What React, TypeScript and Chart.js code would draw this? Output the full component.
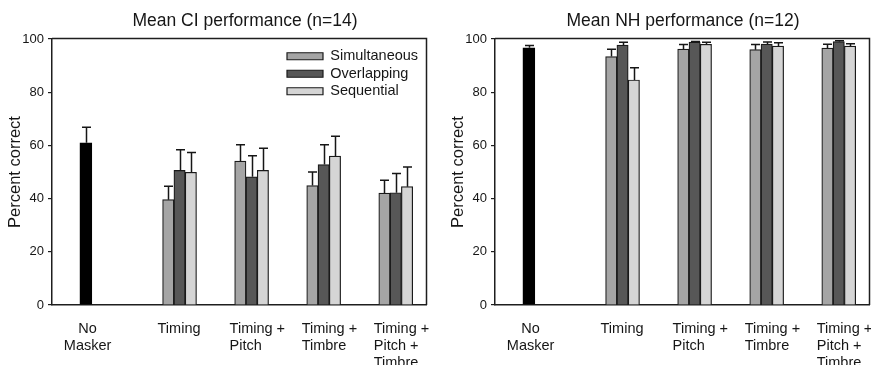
import React, { useEffect, useRef } from 'react';
import { Chart, registerables } from 'chart.js';

Chart.register(...registerables);

const FONT = "'Liberation Sans', Arial, Helvetica, sans-serif";
const INK = '#161616';
const LINE = '#1e1e1e';

// ---- data ----
const categoryLabels: string[][] = [
  ['No', 'Masker'],
  ['Timing'],
  ['Timing +', 'Pitch'],
  ['Timing +', 'Timbre'],
  ['Timing +', 'Pitch +', 'Timbre'],
];
const categoryLineAlign = ['center', 'left', 'left', 'left', 'left'];
const categoryPositions = [1, 2.3, 3.3, 4.3, 5.3];
const seriesNames = ['Simultaneous', 'Overlapping', 'Sequential'];
const seriesColors = ['#a5a5a5', '#575757', '#d5d5d5'];
const noMaskerColor = '#000000';
const yTicks = [0, 20, 40, 60, 80, 100];

const ciTitle = 'Mean CI performance (n=14)';
const ciNoMasker = [61.0];
const ciNoMaskerErr = [5.8];
const ciSimultaneous = [39.6, 54.1, 44.9, 42.1];
const ciSimultaneousErr = [5.0, 6.1, 5.1, 4.8];
const ciOverlapping = [50.6, 48.2, 52.8, 42.2];
const ciOverlappingErr = [7.8, 7.9, 7.4, 7.2];
const ciSequential = [49.9, 50.6, 56.0, 44.5];
const ciSequentialErr = [7.4, 8.3, 7.4, 7.4];

const nhTitle = 'Mean NH performance (n=12)';
const nhNoMasker = [96.7];
const nhNoMaskerErr = [0.9];
const nhSimultaneous = [93.4, 96.2, 96.0, 96.6];
const nhSimultaneousErr = [2.7, 1.7, 1.9, 1.4];
const nhOverlapping = [97.7, 98.8, 98.1, 99.0];
const nhOverlappingErr = [1.1, 0.3, 0.8, 0.3];
const nhSequential = [84.6, 98.0, 97.3, 97.3];
const nhSequentialErr = [4.6, 0.8, 1.3, 0.9];

const yAxisTitle = 'Percent correct';

// ---- helpers ----
function buildDatasets(nm: number[], nmErr: number[], series: number[][], seriesErr: number[][]) {
  const nmSet: any = {
    label: 'No Masker',
    data: categoryPositions.map((x, i) => ({ x, y: i === 0 ? nm[0] : null })),
    errors: categoryPositions.map((_x, i) => (i === 0 ? nmErr[0] : null)),
    backgroundColor: noMaskerColor,
    borderColor: '#000',
    borderWidth: 1,
    barThickness: 12,
    skipNull: true,
  };
  const others = series.map((vals, s) => ({
    label: seriesNames[s],
    data: categoryPositions.map((x, i) => ({ x, y: i === 0 ? null : vals[i - 1] })),
    errors: categoryPositions.map((_x, i) => (i === 0 ? null : seriesErr[s][i - 1])),
    backgroundColor: seriesColors[s],
    borderColor: '#1a1a1a',
    borderWidth: 1.2,
    barThickness: 11.3,
    skipNull: true,
  }));
  return [nmSet, ...others];
}

const errorBarPlugin = {
  id: 'errorBars',
  afterDatasetsDraw(chart: any) {
    const { ctx, scales } = chart;
    const y = scales.y;
    ctx.save();
    ctx.strokeStyle = INK;
    ctx.lineWidth = 1.5;
    chart.data.datasets.forEach((ds: any, di: number) => {
      const meta = chart.getDatasetMeta(di);
      if (meta.hidden) return;
      meta.data.forEach((bar: any, i: number) => {
        const v = ds.data[i].y;
        const e = ds.errors ? ds.errors[i] : null;
        if (v == null || e == null) return;
        const top = y.getPixelForValue(v + e);
        const bx = Math.round(bar.x) + 0.5;
        ctx.beginPath();
        ctx.moveTo(bx, bar.y);
        ctx.lineTo(bx, top);
        ctx.moveTo(bx - 4.5, top);
        ctx.lineTo(bx + 4.5, top);
        ctx.stroke();
      });
    });
    ctx.restore();
  },
};

const xLabelPlugin = {
  id: 'xLabels',
  afterDraw(chart: any) {
    const { ctx, chartArea, scales } = chart;
    const x = scales.x;
    ctx.save();
    ctx.font = `14.5px ${FONT}`;
    ctx.fillStyle = INK;
    ctx.textBaseline = 'alphabetic';
    ctx.textAlign = 'left';
    categoryLabels.forEach((lines, i) => {
      const px = x.getPixelForValue(categoryPositions[i]);
      const widths = lines.map((l) => ctx.measureText(l).width);
      const blockW = Math.max(...widths);
      const left = px - 22;
      lines.forEach((l, j) => {
        const lx = categoryLineAlign[i] === 'center' ? left + (blockW - widths[j]) / 2 : left;
        ctx.fillText(l, lx, chartArea.bottom + 27.5 + j * 17.3);
      });
    });
    ctx.restore();
  },
};

const framePlugin = {
  id: 'frame',
  afterLayout(chart: any, _args: any, opts: any) {
    const ca = chart.chartArea;
    if (chart.legend && opts && opts.legendDx != null) {
      chart.legend.left = ca.right - opts.legendDx;
      chart.legend.top = ca.top + opts.legendDy;
    }
    if (chart.titleBlock && opts && opts.titleShift) {
      chart.titleBlock.left += opts.titleShift;
      chart.titleBlock.right += opts.titleShift;
    }
  },
  afterDraw(chart: any) {
    const { ctx, chartArea } = chart;
    ctx.save();
    ctx.strokeStyle = LINE;
    ctx.lineWidth = 1.5;
    ctx.beginPath();
    const t = Math.round(chartArea.top) - 0.5;
    const r = Math.round(chartArea.right) + 0.5;
    ctx.moveTo(Math.round(chartArea.left), t);
    ctx.lineTo(r, t);
    ctx.lineTo(r, Math.round(chartArea.bottom));
    ctx.stroke();
    ctx.restore();
  },
};

function makeConfig(title: string, datasets: any[], showLegend: boolean, titleShift: number): any {
  return {
    type: 'bar',
    data: { datasets },
    plugins: [errorBarPlugin, xLabelPlugin, framePlugin],
    options: {
      animation: false,
      responsive: false,
      devicePixelRatio: 1,
      events: [],
      layout: { padding: { left: 0, right: 14, top: 0, bottom: 0 } },
      plugins: {
        title: {
          display: true,
          text: title,
          fullSize: false,
          color: INK,
          font: { family: FONT, size: 17.5, weight: 'normal' },
          padding: { top: 11, bottom: 7 },
        },
        legend: {
          display: showLegend,
          position: 'chartArea',
          align: 'start',
          labels: {
            boxWidth: 36,
            boxHeight: 7,
            padding: 3,
            color: INK,
            textAlign: 'left',
            font: { family: FONT, size: 14.5 },
            filter: (item: any) => item.datasetIndex > 0,
          },
        },
        tooltip: { enabled: false },
        frame: { legendDx: 142, legendDy: 7, titleShift },
      },
      scales: {
        x: {
          type: 'linear',
          min: 0.53,
          max: 5.72,
          offset: false,
          grid: { display: false, offset: false },
          ticks: { display: false },
          border: { display: true, color: LINE, width: 1.5 },
          afterFit: (s: any) => {
            s.height = 80;
          },
        },
        y: {
          min: 0,
          max: 100,
          afterBuildTicks: (s: any) => {
            s.ticks = yTicks.map((v) => ({ value: v }));
          },
          grid: { drawOnChartArea: false, drawTicks: true, tickLength: 4, color: LINE, lineWidth: 1.2 },
          border: { display: true, color: LINE, width: 1.5 },
          ticks: { color: INK, padding: 4, font: { family: FONT, size: 13 } },
          title: {
            display: true,
            text: yAxisTitle,
            color: INK,
            font: { family: FONT, size: 16.5 },
            padding: { top: 6, bottom: 0 },
          },
          afterFit: (s: any) => {
            s.width = 52;
          },
        },
      },
    },
  };
}

function BarPanel(props: { title: string; datasets: any[]; legend: boolean; titleShift: number; left: number }) {
  const ref = useRef<HTMLCanvasElement | null>(null);
  useEffect(() => {
    if (!ref.current) return;
    const chart = new Chart(ref.current, makeConfig(props.title, props.datasets, props.legend, props.titleShift));
    return () => chart.destroy();
  }, []);
  return (
    <canvas
      ref={ref}
      width={440}
      height={385}
      style={{ position: 'absolute', left: props.left, top: 0, width: 440, height: 385 }}
    />
  );
}

export default function App() {
  const ciSets = buildDatasets(
    ciNoMasker,
    ciNoMaskerErr,
    [ciSimultaneous, ciOverlapping, ciSequential],
    [ciSimultaneousErr, ciOverlappingErr, ciSequentialErr]
  );
  const nhSets = buildDatasets(
    nhNoMasker,
    nhNoMaskerErr,
    [nhSimultaneous, nhOverlapping, nhSequential],
    [nhSimultaneousErr, nhOverlappingErr, nhSequentialErr]
  );
  return (
    <div
      style={{
        position: 'fixed',
        left: 0,
        top: 0,
        width: 871,
        height: 365,
        overflow: 'hidden',
        background: '#ffffff',
      }}
    >
      <BarPanel title={ciTitle} datasets={ciSets} legend={true} titleShift={6} left={0} />
      <BarPanel title={nhTitle} datasets={nhSets} legend={false} titleShift={1} left={443} />
    </div>
  );
}
